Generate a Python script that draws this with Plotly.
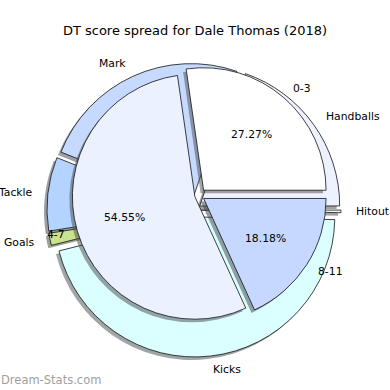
import math
import plotly.graph_objects as go

title_text = "DT score spread for Dale Thomas (2018)"
watermark = "Dream-Stats.com"

outer_labels = ["Handballs", "Mark", "Tackle", "Goals", "Kicks", "Hitout"]
outer_values = [19.7, 24.3, 8.5, 1.4, 45.8, 0.3]
outer_colors = ["#EEF2FF", "#C6D9FF", "#B4D4FF", "#C9E38C", "#DBFFFF", "#F2F2F2"]

inner_labels = ["0-3", "4-7", "8-11"]
inner_values = [3, 6, 2]
inner_colors = ["#FFFFFF", "#ECF1FF", "#C6D8FF"]

W = H = 390
OUTER = dict(cx=194, cy=210, r=140, pull=[0.05] * 6)
INNER = dict(cx=199, cy=195.5, r=122.5, pull=[0.057, 0.035, 0.045])
SHADOW_DX, SHADOW_DY = -3, 3
FONT = "DejaVu Sans"
LABEL_SIZE = 10.8


def domain(cx, cy, r, pull):
    half = r * (1 + max(pull))
    return dict(x=[(cx - half) / W, (cx + half) / W],
                y=[(H - cy - half) / H, (H - cy + half) / H])


def shadow_col(hexc):
    h = hexc.lstrip("#")
    rgb = [int(h[i:i + 2], 16) for i in (0, 2, 4)]
    return "rgba(%d,%d,%d,0.5)" % tuple(int(0.3 * c) for c in rgb)


def pie(values, labels, colors, g, shadow=False):
    cx, cy = g["cx"], g["cy"]
    if shadow:
        cx += SHADOW_DX
        cy += SHADOW_DY
    # plotly (counterclockwise): first slice ends at `rotation`, so start it at 3 o'clock
    first_deg = 360.0 * values[0] / sum(values)
    return go.Pie(
        values=values, labels=labels, sort=False,
        direction="counterclockwise", rotation=90 - first_deg,
        pull=g["pull"],
        marker=dict(colors=[shadow_col(c) for c in colors] if shadow else colors,
                    line=dict(color="rgba(0,0,0,0)" if shadow else "#111111",
                              width=0 if shadow else 0.8)),
        textinfo="none", hoverinfo="skip", showlegend=False,
        domain=domain(cx, cy, g["r"], g["pull"]),
    )


fig = go.Figure()
fig.add_trace(pie(outer_values, outer_labels, outer_colors, OUTER, shadow=True))
fig.add_trace(pie(outer_values, outer_labels, outer_colors, OUTER))
fig.add_trace(pie(inner_values, inner_labels, inner_colors, INNER, shadow=True))
fig.add_trace(pie(inner_values, inner_labels, inner_colors, INNER))

annotations = []


def add_labels(values, labels, g, pct=False):
    total = float(sum(values))
    start = 0.0
    for v, lab, p in zip(values, labels, g["pull"]):
        ang = 360.0 * v / total
        mid = math.radians(start + ang / 2)
        start += ang
        c, s = math.cos(mid), math.sin(mid)
        scx = g["cx"] + p * g["r"] * c
        scy = g["cy"] - p * g["r"] * s
        lx = scx + 1.1 * g["r"] * c
        ly = scy - 1.1 * g["r"] * s
        annotations.append(dict(
            x=lx / W, y=1 - ly / H, xref="paper", yref="paper", text=lab,
            showarrow=False, xanchor="left" if c > 0 else "right", yanchor="middle",
            borderpad=0, font=dict(family=FONT, size=LABEL_SIZE, color="#000")))
        if pct:
            px = scx + 0.6 * g["r"] * c
            py = scy - 0.6 * g["r"] * s
            annotations.append(dict(
                x=px / W, y=1 - py / H, xref="paper", yref="paper",
                text="%.2f%%" % (100 * v / total),
                showarrow=False, xanchor="center", yanchor="middle", borderpad=0,
                font=dict(family=FONT, size=LABEL_SIZE, color="#000")))


add_labels(outer_values, outer_labels, OUTER)
add_labels(inner_values, inner_labels, INNER, pct=True)

annotations.append(dict(x=0, y=1 - 380 / H, xref="paper", yref="paper", text=watermark,
                        showarrow=False, xanchor="left", yanchor="middle", borderpad=0,
                        font=dict(family=FONT, size=11.5, color="#A0A0A0")))

fig.update_layout(
    width=W, height=H,
    margin=dict(l=0, r=0, t=0, b=0),
    paper_bgcolor="white", plot_bgcolor="white",
    title=dict(text=title_text, x=0.5, xanchor="center", y=1 - 30 / H, yanchor="middle",
               font=dict(family=FONT, size=13, color="#000")),
    annotations=annotations,
)

fig.write_html("out.html", config={"displayModeBar": False},
               post_script="document.body.style.margin='0';document.body.style.overflow='hidden';")
